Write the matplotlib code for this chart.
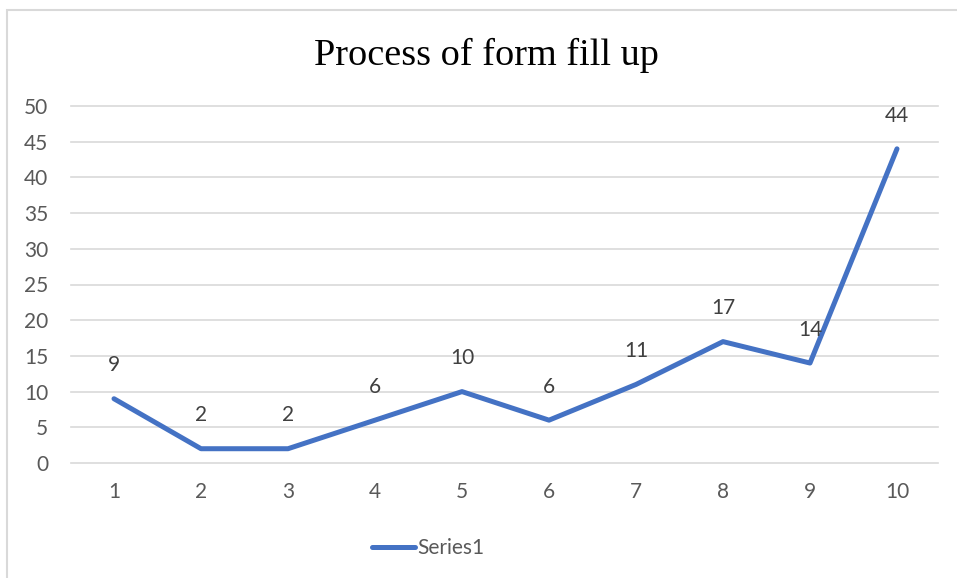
import matplotlib
matplotlib.use("Agg")
import matplotlib.pyplot as plt
from matplotlib.patches import Rectangle

categories = [1, 2, 3, 4, 5, 6, 7, 8, 9, 10]
values = [9, 2, 2, 6, 10, 6, 11, 17, 14, 44]
series_name = "Series1"
title = "Process of form fill up"
yticks = [0, 5, 10, 15, 20, 25, 30, 35, 40, 45, 50]

W, H = 957, 578
fig = plt.figure(figsize=(W / 100, H / 100), dpi=100)
fig.patch.set_facecolor("white")

# outer chart border (cropped at right/bottom)
fig.patches.append(Rectangle((7 / W, -0.05), 1.1, (H - 10) / H + 0.05, transform=fig.transFigure,
                             fill=False, edgecolor="#d9d9d9", linewidth=1.5))

left, right = 70.5 / W, 940.5 / W
bottom, top = (H - 463) / H, (H - 106) / H
ax = fig.add_axes([left, bottom, right - left, top - bottom])

font = "Lato"
fs = 15
tick_color = "#595959"

ax.plot(categories, values, color="#4472C4", linewidth=3.6, solid_capstyle="round",
        solid_joinstyle="round", label=series_name, zorder=3)

for x, v in zip(categories, values):
    ax.annotate(str(v), (x, v), xytext=(0, 24), textcoords="offset points",
                ha="center", va="center", fontsize=fs, color="#404040", family=font)

ax.set_xlim(0.5, 10.5)
ax.set_ylim(0, 50)
ax.set_yticks(yticks)
ax.set_xticks(categories)
ax.set_xticklabels([str(c) for c in categories])

for y in yticks:
    ax.axhline(y, xmin=0, xmax=0.997, color="#d9d9d9", linewidth=1.2, zorder=1, clip_on=False)

for s in ax.spines.values():
    s.set_visible(False)
ax.tick_params(axis="both", length=0, labelsize=fs, labelcolor=tick_color)
ax.tick_params(axis="y", pad=16)
ax.tick_params(axis="x", pad=14)
for lab in ax.get_xticklabels() + ax.get_yticklabels():
    lab.set_family(font)

fig.text(486 / W, 1 - 55 / H, title, ha="center", va="center", fontsize=27.5,
         family="Liberation Serif", color="black")

leg = fig.legend(loc="center", bbox_to_anchor=(428 / W, 1 - 548 / H), frameon=False,
                 handlelength=2.1, handletextpad=0.1, prop={"family": font, "size": fs})
for t in leg.get_texts():
    t.set_color(tick_color)
for h in leg.legend_handles:
    h.set_linewidth(3.6)

fig.savefig("out.png", dpi=100)
